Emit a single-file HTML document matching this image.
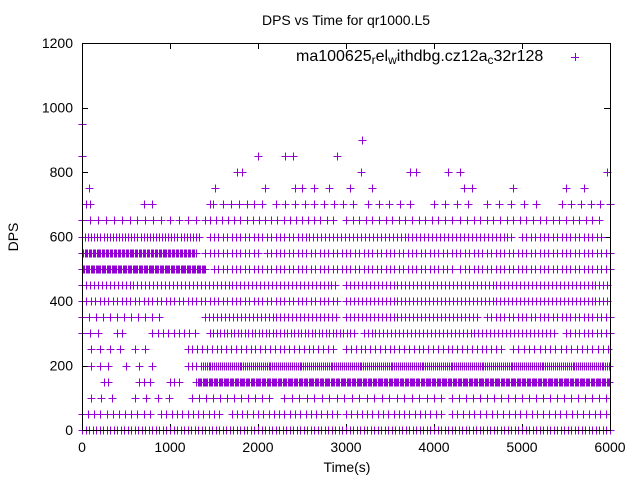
<!DOCTYPE html>
<html><head><meta charset="utf-8"><style>
body{margin:0;background:#fff}
svg text{font-family:"Liberation Sans",sans-serif;fill:#000}
</style></head><body>
<svg id="chart" width="640" height="480" viewBox="0 0 640 480" xmlns="http://www.w3.org/2000/svg">
<rect width="640" height="480" fill="#fff"/>
<text x="346" y="25" font-size="14" text-anchor="middle">DPS vs Time for qr1000.L5</text>
<text x="18" y="237" font-size="14" text-anchor="middle" transform="rotate(-90 18 237)">DPS</text>
<text x="347" y="472" font-size="14" text-anchor="middle">Time(s)</text>
<g id="ticks"></g>
<g id="marks"></g>
<rect x="82.5" y="43.5" width="528" height="387" fill="none" stroke="#000" stroke-width="1"/>
<g>
<text x="296" y="61" font-size="16">ma100625<tspan font-size="12" dy="3">r</tspan><tspan dy="-3">el</tspan><tspan font-size="12" dy="3">w</tspan><tspan dy="-3">ithdbg.cz12a</tspan><tspan font-size="12" dy="3">c</tspan><tspan dy="-3">32r128</tspan></text>
<path d="M571 57.5h8M575.5 53v8" stroke="#9400d3" stroke-width="1"/>
</g>
</svg>
<script>
// levels (DPS) and dense segments per level: [startTime, endTime, spacingSeconds]
const levels = [0,50,100,150,200,250,300,350,400,450,500,550,600,650,700];
const segs0   = [[0,6000,40]];
const segs50  = [[0,800,70],[900,1600,60],[1700,2900,60],[3000,4100,60],[4200,6000,65]];
const segs100 = [[100,400,120],[600,1000,130],[1250,2200,80],[2300,4100,85],[4200,6000,80]];
const segs150 = [[250,300,40],[650,800,60],[1000,1100,50],[1300,6000,14]];
const segs200 = [[100,300,100],[500,900,150],[1200,1300,50],[1350,6000,22]];
const segs250 = [[100,500,110],[600,800,120],[1200,2900,55],[3000,4800,55],[4900,6000,60]];
const segs300 = [[0,200,90],[400,450,50],[800,1300,60],[1450,3100,40],[3200,5400,45],[5500,6000,50]];
const segs350 = [[0,900,80],[1400,2900,45],[3000,4500,45],[4600,6000,50]];
const segs400 = [[0,2900,50],[3000,6000,45]];
const segs450 = [[0,2900,45],[3000,6000,45]];
const segs500 = [[0,1400,14],[1500,4200,50],[4300,6000,50]];
const segs550 = [[0,1300,15],[1400,2000,50],[2100,6000,50]];
const segs600 = [[0,1350,35],[1450,2400,50],[2450,4900,45],[5000,5900,50]];
const segs650 = [[0,900,90],[1000,1400,100],[1450,2900,70],[3000,4200,75],[4300,5900,75]];
const segs700 = [[50,100,40],[700,800,100],[1450,1500,40],[1600,2100,90],[2200,3150,110],[3250,3800,120],[4000,4500,130],[4600,5200,140],[5450,6000,110]];
const allSegs = [segs0,segs50,segs100,segs150,segs200,segs250,segs300,segs350,segs400,segs450,segs500,segs550,segs600,segs650,segs700];
// sparse high values: times for each
const t750 = [80,1506,2085,2420,2500,2636,2807,3045,3295,4340,4430,4900,5500,5700];
const t800 = [1761,1818,3170,3727,3795,4159,4295,5970];
const t850 = [0,2000,2307,2398,2898];
const t900 = [3182];
const t950 = [0];
const xTicks = [0,1000,2000,3000,4000,5000,6000];
const yTicks = [0,200,400,600,800,1000,1200];

const X0=82,X1=610,Y0=430,Y1=43;
function sx(t){return X0+(t/6000)*(X1-X0);}
function sy(v){return Y0-(v/1200)*(Y0-Y1);}
const NS='http://www.w3.org/2000/svg';
const tg=document.getElementById('ticks');
xTicks.forEach(t=>{
  const x=Math.round(sx(t))+0.5;
  const p=document.createElementNS(NS,'path');
  p.setAttribute('d',`M${x} ${Y0}v-6M${x} ${Y1}v6`);
  p.setAttribute('stroke','#000');
  
  
  tg.appendChild(p);
  const tx=document.createElementNS(NS,'text');
  tx.setAttribute('x',sx(t));tx.setAttribute('y',Y0+22);
  tx.setAttribute('font-size','14');tx.setAttribute('text-anchor','middle');
  
  
  tx.textContent=t;tg.appendChild(tx);
});
yTicks.forEach(v=>{
  const y=Math.round(sy(v))+0.5;
  const p=document.createElementNS(NS,'path');
  p.setAttribute('d',`M${X0} ${y}h6M${X1} ${y}h-6`);
  p.setAttribute('stroke','#000');
  
  
  tg.appendChild(p);
  const tx=document.createElementNS(NS,'text');
  tx.setAttribute('x',X0-9);tx.setAttribute('y',sy(v)+5);
  tx.setAttribute('font-size','14');tx.setAttribute('text-anchor','end');
  
  
  tx.textContent=v;tg.appendChild(tx);
});
let d='';
function cross(t,v){const x=Math.round(sx(t))+0.5,y=Math.round(sy(v))+0.5;d+=`M${x-4} ${y}h8M${x} ${y-4}v8`;}
levels.forEach((v,i)=>{allSegs[i].forEach(s=>{for(let t=s[0];t<=s[1];t+=s[2])cross(t,v);});});
[[750,t750],[800,t800],[850,t850],[900,t900],[950,t950]].forEach(([v,ts])=>ts.forEach(t=>cross(t,v)));
const mp=document.createElementNS(NS,'path');
mp.setAttribute('d',d);mp.setAttribute('stroke','#9400d3');mp.setAttribute('stroke-width','1');mp.setAttribute('fill','none');
mp.setAttribute('shape-rendering','crispEdges');


document.getElementById('marks').appendChild(mp);
</script>
</body></html>
